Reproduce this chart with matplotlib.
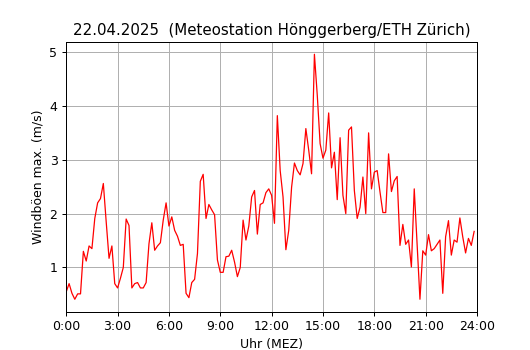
import numpy as np
from matplotlib import pyplot as plt

# max gusts, one value per 10 minutes from 0:00 to 23:50
gusts = [
    0.55, 0.70, 0.52, 0.41, 0.51, 0.51,
    1.30, 1.12, 1.40, 1.35, 1.91, 2.20,
    2.28, 2.56, 1.85, 1.17, 1.40, 0.70,
    0.62, 0.80, 1.00, 1.90, 1.78, 0.62,
    0.70, 0.72, 0.62, 0.62, 0.72, 1.44,
    1.83, 1.32, 1.40, 1.46, 1.88, 2.20,
    1.77, 1.94, 1.69, 1.58, 1.41, 1.43,
    0.52, 0.44, 0.72, 0.78, 1.26, 2.60,
    2.73, 1.91, 2.17, 2.07, 1.98, 1.14,
    0.91, 0.91, 1.20, 1.21, 1.32, 1.10,
    0.83, 1.00, 1.88, 1.51, 1.77, 2.31,
    2.43, 1.62, 2.17, 2.20, 2.39, 2.46,
    2.34, 1.82, 3.82, 2.80, 2.31, 1.33,
    1.69, 2.49, 2.94, 2.80, 2.72, 2.93,
    3.58, 3.18, 2.74, 4.96, 4.20, 3.30,
    3.03, 3.18, 3.87, 2.85, 3.14, 2.26,
    3.41, 2.34, 2.00, 3.55, 3.61, 2.43,
    1.91, 2.12, 2.68, 2.00, 3.50, 2.46,
    2.77, 2.80, 2.40, 2.02, 2.02, 3.11,
    2.41, 2.61, 2.69, 1.41, 1.80, 1.43,
    1.51, 1.01, 2.46, 1.45, 0.41, 1.31,
    1.23, 1.61, 1.31, 1.35, 1.43, 1.51,
    0.52, 1.57, 1.87, 1.23, 1.51, 1.47,
    1.92, 1.57, 1.27, 1.54, 1.41, 1.67,
]
tick_hours = [0, 3, 6, 9, 12, 15, 18, 21, 24]
tick_labels = [f"{h}:00" for h in tick_hours]

hours = np.arange(len(gusts)) / 6.0

fig, ax = plt.subplots(figsize=(530 / 90, 350 / 90), dpi=90)
ax.plot(hours, gusts, color="red", linewidth=1)
ax.set_xlim(0, 24)
ax.set_xticks(tick_hours)
ax.set_xticklabels(tick_labels)
ax.grid(True)
ax.set_title("22.04.2025  (Meteostation Hönggerberg/ETH Zürich)")
ax.set_xlabel("Uhr (MEZ)")
ax.set_ylabel("Windböen max. (m/s)")
fig.savefig("out.png")
